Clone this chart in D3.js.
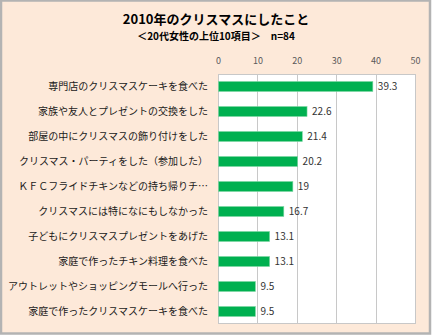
<!DOCTYPE html>
<html><head><meta charset="utf-8">
<script src="https://cdn.jsdelivr.net/npm/d3@7"></script>
<style>
html,body{margin:0;padding:0;background:#fff;}
svg{display:block;}
text{font-family:"Noto Sans CJK JP","Noto Sans",sans-serif;}
</style></head>
<body>
<svg id="chart" width="432" height="336"></svg>
<script>
const title = "2010年のクリスマスにしたこと";
const subtitle = "＜20代女性の上位10項目＞　n=84";
const categories = [
  "専門店のクリスマスケーキを食べた",
  "家族や友人とプレゼントの交換をした",
  "部屋の中にクリスマスの飾り付けをした",
  "クリスマス・パーティをした（参加した）",
  "ＫＦＣフライドチキンなどの持ち帰りチ…",
  "クリスマスには特になにもしなかった",
  "子どもにクリスマスプレゼントをあげた",
  "家庭で作ったチキン料理を食べた",
  "アウトレットやショッピングモールへ行った",
  "家庭で作ったクリスマスケーキを食べた"
];
const values = [39.3, 22.6, 21.4, 20.2, 19, 16.7, 13.1, 13.1, 9.5, 9.5];
const valueLabels = ["39.3","22.6","21.4","20.2","19","16.7","13.1","13.1","9.5","9.5"];
const tickValues = [0, 10, 20, 30, 40, 50];

const svg = d3.select("#chart");
// outer background with border
svg.append("rect").attr("x",1).attr("y",0.5).attr("width",429).attr("height",333)
  .attr("fill","#fde9d9").attr("stroke","#b3b3b3").attr("stroke-width",2.5);

const plot = {left:218, right:415, top:74, bottom:324};
const x = d3.scaleLinear().domain([0,50]).range([plot.left, plot.right]);
const y = d3.scaleBand().domain(categories).range([plot.top, plot.bottom]).paddingInner(0.6).paddingOuter(0.3);

svg.append("rect").attr("x",plot.left).attr("y",plot.top)
  .attr("width",plot.right-plot.left).attr("height",plot.bottom-plot.top).attr("fill","#ffffff");

// gridlines
svg.append("g").selectAll("line").data(tickValues).join("line")
  .attr("x1",d=>Math.round(x(d))+0.5).attr("x2",d=>Math.round(x(d))+0.5)
  .attr("y1",plot.top).attr("y2",plot.bottom)
  .attr("stroke","#c8c8c8").attr("stroke-width",1);
svg.append("line").attr("x1",plot.left).attr("x2",plot.right)
  .attr("y1",plot.top+0.5).attr("y2",plot.top+0.5).attr("stroke","#c8c8c8");
svg.append("line").attr("x1",plot.left).attr("x2",plot.right)
  .attr("y1",plot.bottom-0.5).attr("y2",plot.bottom-0.5).attr("stroke","#c8c8c8");

// top axis ticks labels
const axis = d3.axisTop(x).tickValues(tickValues).tickSize(0).tickPadding(0);
const ag = svg.append("g").attr("transform",`translate(0,${plot.top-10})`).call(axis);
ag.select(".domain").remove();
ag.selectAll("text").attr("font-size","9px").attr("fill","#595959")
  .attr("font-family","'Noto Sans','DejaVu Sans',sans-serif");

// bars
svg.append("g").selectAll("rect").data(values).join("rect")
  .attr("x",x(0)+0.5).attr("y",(d,i)=>y(categories[i]))
  .attr("width",d=>x(d)-x(0)-0.5).attr("height",y.bandwidth())
  .attr("fill","#00b050").attr("stroke","#7fd8a4").attr("stroke-width",0.6);

// value labels
svg.append("g").selectAll("text").data(values).join("text")
  .attr("x",d=>x(d)+5).attr("y",(d,i)=>y(categories[i])+y.bandwidth()/2)
  .attr("dy","0.36em").attr("font-size","10px").attr("fill","#333")
  .attr("font-family","'Noto Sans','DejaVu Sans',sans-serif")
  .text((d,i)=>valueLabels[i]);

// category labels
svg.append("g").selectAll("text").data(categories).join("text")
  .attr("x",208).attr("y",d=>y(d)+y.bandwidth()/2)
  .attr("dy","0.36em").attr("text-anchor","end")
  .attr("font-size","10px").attr("fill","#1a1a1a")
  .text(d=>d);

// titles
svg.append("text").attr("x",216).attr("y",24).attr("text-anchor","middle")
  .attr("font-size","13px").attr("font-weight","bold").attr("fill","#000").text(title);
svg.append("text").attr("x",216).attr("y",40).attr("text-anchor","middle")
  .attr("font-size","10px").attr("font-weight","bold").attr("fill","#000").text(subtitle);
</script>
</body></html>
